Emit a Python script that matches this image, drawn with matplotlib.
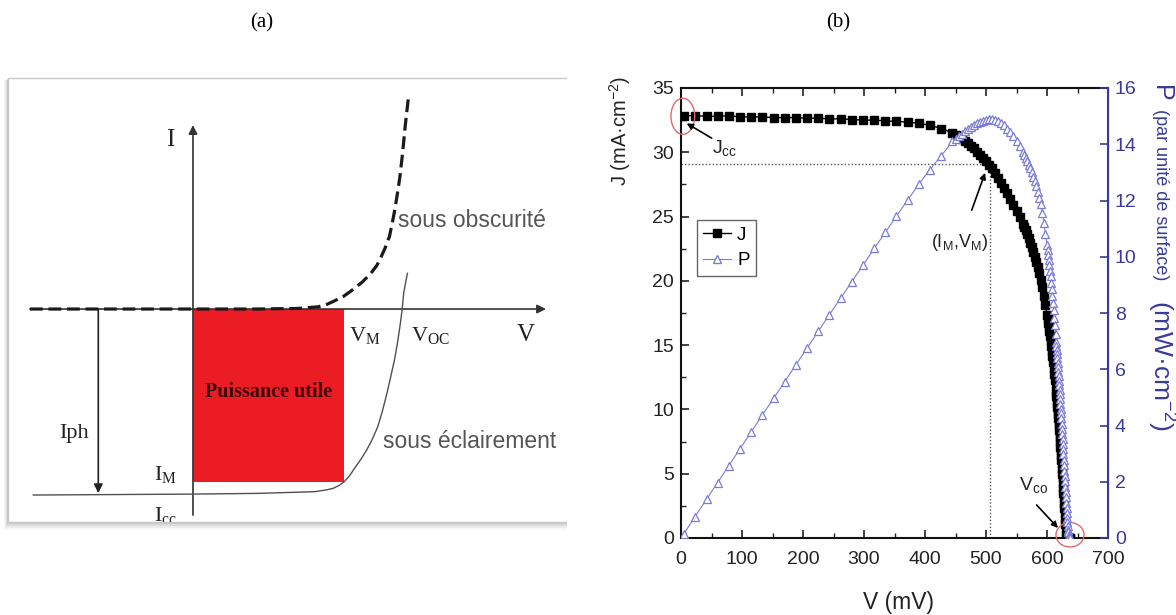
import matplotlib
matplotlib.use("Agg")
import matplotlib.pyplot as plt
from matplotlib import font_manager as fm
from matplotlib.patches import Rectangle, Ellipse
from matplotlib.ticker import MultipleLocator
from matplotlib.lines import Line2D

W, H = 1176, 615
plt.rcParams['font.family'] = ['Liberation Sans', 'DejaVu Sans']
plt.rcParams['mathtext.default'] = 'regular'

names = {f.name for f in fm.fontManager.ttflist}
NARROW = 'Liberation Sans Narrow' if 'Liberation Sans Narrow' in names else 'Liberation Sans'
SERIF = 'Liberation Serif'

# ---------------- data, panel (b) ----------------
V_mV = [5, 23, 42, 60, 78, 97, 115, 133, 152, 170, 188, 207, 225, 243, 262, 280,
        298, 317, 335, 353, 372, 390, 408, 427,
        445, 450, 455, 460, 465, 470, 475, 480, 485, 490, 495, 500, 505, 510, 515,
        520, 525, 530, 535, 540, 545, 550, 555, 560,
        562.5, 565, 567.5, 570, 572.5, 575, 577.5, 580, 582.5, 585, 587.5, 590,
        592.5, 595, 597.5, 600,
        601, 602, 603, 604, 605, 606, 607, 608, 609, 610, 611, 612, 613, 614, 615,
        615.5, 616, 616.5, 617, 617.5, 618, 618.5, 619, 619.5, 620, 620.5, 621,
        621.5, 622, 622.5, 623, 623.5, 624, 624.5, 625, 625.5, 626, 626.5, 627,
        627.5, 628, 628.5, 629, 629.5, 630, 630.5, 631, 631.5, 632, 632.5, 633,
        633.5, 634, 634.5, 635, 635.5, 636, 636.5, 637, 637.5]
J_mAcm2 = [32.85, 32.85, 32.8, 32.8, 32.85, 32.75, 32.75, 32.75, 32.7, 32.7, 32.7,
           32.65, 32.65, 32.6, 32.6, 32.55, 32.5, 32.5, 32.45, 32.4, 32.35, 32.25,
           32.1, 31.85,
           31.5, 31.35, 31.2, 31.05, 30.9, 30.7, 30.5, 30.3, 30.05, 29.8, 29.55,
           29.3, 29.05, 28.75, 28.4, 28.0, 27.6, 27.2, 26.8, 26.35, 25.9, 25.42,
           24.95, 24.45,
           24.2, 23.92, 23.63, 23.3, 22.95, 22.6, 22.25, 21.88, 21.47, 21.05, 20.6,
           20.1, 19.5, 18.8, 18.1, 17.35,
           17.05, 16.74, 16.42, 16.08, 15.72, 15.35, 14.95, 14.54, 14.12, 13.69,
           13.25, 12.79, 12.32, 11.84, 11.35,
           11.07, 10.79, 10.5, 10.21, 9.92, 9.62, 9.32, 9.02, 8.71, 8.4, 8.08, 7.76,
           7.43, 7.1, 6.76, 6.42, 6.07, 5.72, 5.36, 5.0, 4.63, 4.26, 3.88, 3.5,
           3.11, 2.72, 2.32, 1.92, 1.51, 1.1, 0.68, 0.26, 0.0, 0.0, 0.0, 0.0,
           0.0, 0.0, 0.0, 0.0, 0.0, 0.0, 0.0, 0.0, 0.0]
P_mWcm2 = [0.16, 0.76, 1.38, 1.97, 2.56, 3.18, 3.77, 4.36, 4.97, 5.56, 6.15, 6.76,
           7.35, 7.93, 8.54, 9.11, 9.69, 10.30, 10.87, 11.44, 12.03, 12.58, 13.10,
           13.60,
           14.1, 14.2, 14.3, 14.38, 14.47, 14.55, 14.62, 14.68, 14.74, 14.79, 14.83,
           14.86, 14.89, 14.9, 14.88, 14.83, 14.76, 14.67, 14.56, 14.43, 14.28,
           14.11, 13.93, 13.74,
           13.62, 13.51, 13.41, 13.28, 13.14, 13.0, 12.85, 12.69, 12.51, 12.31,
           12.1, 11.86, 11.56, 11.19, 10.82, 10.41,
           10.25, 10.08, 9.9, 9.71, 9.51, 9.3, 9.08, 8.84, 8.6, 8.35, 8.1, 7.83,
           7.56, 7.27, 6.98,
           6.84, 6.69, 6.54, 6.39, 6.24, 6.08, 5.92, 5.76, 5.6, 5.44, 5.28, 5.11,
           4.94, 4.77, 4.6, 4.43, 4.25, 4.07, 3.89, 3.71, 3.53, 3.35, 3.16, 2.97,
           2.78, 2.59, 2.4, 2.21, 2.02, 1.83, 1.64, 1.45, 1.26, 1.07, 0.89, 0.72,
           0.56, 0.42, 0.3, 0.2, 0.12, 0.06, 0.02, 0.0, 0.0]
V_M_mV = 507
J_M = 29.1
x_ticks = [0, 100, 200, 300, 400, 500, 600, 700]
J_ticks = [0, 5, 10, 15, 20, 25, 30, 35]
P_ticks = [0, 2, 4, 6, 8, 10, 12, 14, 16]

# ---------------- data, panel (a) (schematic units: V_oc = 1, I_ph = 1) -------
dark_V = [-0.78, 0.0, 0.3, 0.5, 0.6, 0.64, 0.67, 0.72, 0.76, 0.81, 0.85, 0.88,
          0.90, 0.92, 0.94, 0.953, 0.965, 0.978, 0.99, 1.003, 1.015, 1.03]
dark_I = [0.0, 0.0, 0.0, 0.003, 0.012, 0.025, 0.04, 0.068, 0.10, 0.145, 0.19,
          0.235, 0.28, 0.33, 0.39, 0.46, 0.53, 0.62, 0.71, 0.84, 0.98, 1.13]
light_V = [-0.764, 0.0, 0.316, 0.583, 0.64, 0.671, 0.70, 0.724, 0.75, 0.778,
           0.805, 0.831, 0.858, 0.884, 0.906, 0.928, 0.946, 0.964, 0.978, 0.990,
           1.0, 1.008, 1.017, 1.026]
light_I = [-1.0, -0.995, -0.991, -0.982, -0.972, -0.964, -0.948, -0.928, -0.895,
           -0.848, -0.805, -0.758, -0.700, -0.633, -0.55, -0.453, -0.365, -0.274,
           -0.185, -0.095, -0.01, 0.084, 0.14, 0.192]
V_M_a = 0.724
I_M_a = -0.928
I_ph_a = -1.0

fig = plt.figure(figsize=(W / 100, H / 100), dpi=100)


def fx(x):
    return x / W


def fy(y):
    return 1 - y / H


# ================= panel (a) =================
axf = fig.add_axes([0, 0, fx(567), 1])
axf.set_xlim(0, 567)
axf.set_ylim(H, 0)
axf.axis('off')
for d, a in [(6, 0.05), (4.5, 0.08), (3, 0.12), (1.5, 0.18)]:
    axf.add_patch(Rectangle((8 - d * 0.6, 78 + d * 0.4), 620, 444 + d * 1.0,
                            facecolor='#707070', alpha=a, edgecolor='none'))
axf.add_patch(Rectangle((8, 78), 620, 444, facecolor='white',
                        edgecolor='#c8c8c8', lw=1.0))

axa = fig.add_axes([fx(8), fy(522), fx(567) - fx(8), (522 - 78) / H])
axa.set_xlim(-0.885, (567 - 193) / 209)
axa.set_ylim(-1.145, 1.242)
axa.axis('off')
axa.patch.set_alpha(0)

axa.add_patch(Rectangle((0, I_M_a), V_M_a, -I_M_a, facecolor='#ec1c24',
                        edgecolor='none', zorder=1))
axa.annotate('', xy=(1.689, 0), xytext=(-0.78, 0),
             arrowprops=dict(arrowstyle='-|>', color='#333333', lw=1.2,
                             mutation_scale=13, shrinkA=0, shrinkB=0), zorder=2)
axa.annotate('', xy=(0, 0.989), xytext=(0, -1.108),
             arrowprops=dict(arrowstyle='-|>', color='#333333', lw=1.2,
                             mutation_scale=13, shrinkA=0, shrinkB=0), zorder=2)
axa.annotate('', xy=(-0.453, I_ph_a + 0.01), xytext=(-0.453, 0),
             arrowprops=dict(arrowstyle='-|>', color='#222222', lw=1.2,
                             mutation_scale=13, shrinkA=0, shrinkB=0), zorder=2)
axa.plot(dark_V, dark_I, color='#1a1a1a', lw=2.3, dashes=(4, 1.8), zorder=3)
axa.plot(light_V, light_I, color='#505050', lw=1.0, zorder=3)

serif_kw = dict(family=SERIF, color='#222222', ha='center', va='center')
axa.text(-0.110, 0.909, 'I', fontsize=18, **serif_kw)
axa.text(1.593, -0.14, 'V', fontsize=18, **serif_kw)
axa.text(0.823, -0.14, 'V$_M$', fontsize=16, **serif_kw)
axa.text(1.134, -0.14, 'V$_{OC}$', fontsize=16, **serif_kw)
axa.text(-0.13, -0.892, 'I$_M$', fontsize=16, **serif_kw)
axa.text(-0.13, -1.112, 'I$_{cc}$', fontsize=16, clip_on=True, **serif_kw)
axa.text(-0.569, -0.667, 'Iph', fontsize=16, **serif_kw)
axa.text(0.361, -0.445, 'Puissance utile', fontsize=14.5, fontweight='bold',
         family=SERIF, color='#3a0808', ha='center', va='center')
axa.text(0.981, 0.478, 'sous obscurité', fontsize=16.5, color='#555555',
         ha='left', va='center')
axa.text(0.909, -0.713, 'sous éclairement', fontsize=16.5, color='#555555',
         ha='left', va='center', clip_on=True)

# ================= panel (b) =================
ax = fig.add_axes([fx(681), fy(538), (1108 - 681) / W, (538 - 88) / H])
ax2 = ax.twinx()
BLUE_AX = '#3a3a9c'
TRI = '#7b7bd8'

ax.plot(V_mV, J_mAcm2, '-s', color='black', ms=6.0, lw=1.0, zorder=3)
ax2.plot(V_mV, P_mWcm2, '-^', color=TRI, mfc='white', mec=TRI, ms=5.8,
         mew=0.9, lw=0.8, zorder=3)

ax.plot([0, V_M_mV], [J_M, J_M], color='#555555', lw=1.0, dashes=(1, 1.5), zorder=2)
ax.plot([V_M_mV, V_M_mV], [0, J_M], color='#555555', lw=1.0, dashes=(1, 1.5), zorder=2)

ax.set_xlim(0, 700)
ax.set_ylim(0, 35)
ax2.set_ylim(0, 16)
ax.set_xticks(x_ticks)
ax.set_yticks(J_ticks)
ax2.set_yticks(P_ticks)
ax.xaxis.set_minor_locator(MultipleLocator(50))
ax.yaxis.set_minor_locator(MultipleLocator(2.5))
ax.tick_params(which='both', direction='in', top=True, right=False,
               labelsize=14, colors='#222222')
ax.tick_params(axis='x', which='major', pad=9)
ax.tick_params(axis='y', which='major', pad=5)
ax.tick_params(which='major', length=6, width=1.2)
ax.tick_params(which='minor', length=3.5, width=1.0)
ax2.tick_params(which='major', direction='in', length=6, width=1.2,
                colors=BLUE_AX, labelsize=14, pad=5)
for lab in ax.get_xticklabels() + ax.get_yticklabels() + ax2.get_yticklabels():
    lab.set_family(NARROW)
for sp in ['left', 'bottom', 'top']:
    ax.spines[sp].set_linewidth(1.5)
    ax.spines[sp].set_color('#111111')
ax2.spines['right'].set_color(BLUE_AX)
ax2.spines['right'].set_linewidth(1.5)
ax2.spines['left'].set_visible(False)
ax2.spines['top'].set_visible(False)
ax2.spines['bottom'].set_visible(False)

ax.set_xlabel('V (mV)', fontsize=16.5, color='#222222')
ax.xaxis.set_label_coords(0.51, -(591 - 538) / 450)
ax.set_ylabel('J (mA·cm$^{-2}$)', fontsize=14.5, color='#222222')
ax.yaxis.set_label_coords(-0.112, 0.904)

# right label in three pieces
fig.text(fx(1161), fy(85), 'P', fontsize=18, color=BLUE_AX, rotation=-90,
         ha='center', va='top')
fig.text(fx(1161), fy(109), '(par unité de surface)', fontsize=13,
         color=BLUE_AX, rotation=-90, ha='center', va='top')
fig.text(fx(1161), fy(300), '(mW·cm$^{-2}$)', fontsize=19, color=BLUE_AX,
         rotation=-90, ha='center', va='top')

# legend
h1 = Line2D([], [], color='black', marker='s', ms=6.0, lw=1.0)
h2 = Line2D([], [], color=TRI, marker='^', mfc='white', mec=TRI, ms=5.8, lw=0.8)
leg = ax2.legend([h1, h2], ['J', 'P'], loc='upper left',
                 bbox_to_anchor=(0.037, 0.707), borderaxespad=0,
                 fontsize=13.5, handlelength=1.5, handletextpad=0.3,
                 borderpad=0.35, labelspacing=0.45, fancybox=False,
                 edgecolor='#666666', framealpha=1)
leg.get_frame().set_linewidth(1.0)

# annotations
ax.add_patch(Ellipse((3, 32.8), 39, 2.8, fill=False, edgecolor='#e06a6a',
                     lw=1.0, clip_on=False, zorder=5))
ax.add_patch(Ellipse((637.7, 0.25), 46, 1.9, fill=False, edgecolor='#e06a6a',
                     lw=1.0, clip_on=False, zorder=5))
arr = dict(arrowstyle='-|>', color='black', lw=1.2, mutation_scale=9,
           shrinkA=0, shrinkB=0)
ax.annotate('', xy=(9.3, 32.25), xytext=(50.3, 31.1), arrowprops=arr, zorder=6)
ax.text(51, 30.3, 'J$_{cc}$', fontsize=14, ha='left', va='center', color='#222222')
ax.annotate('', xy=(498.5, 28.4), xytext=(476.6, 25.5), arrowprops=arr, zorder=6)
ax.text(457, 23.0, '(I$_M$,V$_M$)', fontsize=13, ha='center', va='center',
        color='#222222')
ax.annotate('', xy=(618, 0.78), xytext=(583, 2.57), arrowprops=arr, zorder=6)
ax.text(554, 4.1, 'V$_{co}$', fontsize=14, ha='left', va='center', color='#222222')

# panel titles
fig.text(fx(262), fy(23), '(a)', family=SERIF, fontsize=15, ha='center', va='center')
fig.text(fx(838), fy(23), '(b)', family=SERIF, fontsize=15, ha='center', va='center')

fig.savefig('out.png', dpi=100)
